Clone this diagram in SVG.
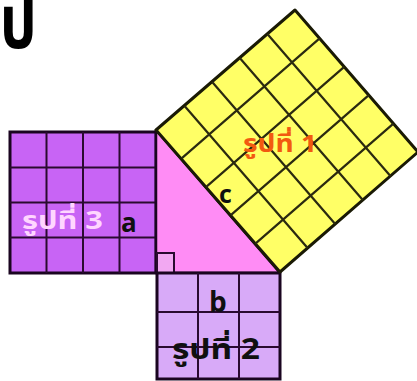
<svg xmlns="http://www.w3.org/2000/svg" width="417" height="381" viewBox="0 0 417 381">
<style>
.grid{stroke:#2a0a30;stroke-width:2;fill:none}
.ygrid{stroke:#2b2a10;stroke-width:2.2;fill:none}
.lbl{font-family:"Noto Sans Thai","Liberation Sans","Noto Sans",sans-serif;font-weight:bold}
</style>
<rect width="417" height="381" fill="#ffffff"/>
<text class="lbl" transform="translate(0,48) scale(0.78,1)" x="0" y="0" font-size="74" fill="#000" font-family="'Noto Serif Thai','Noto Sans Thai',serif">ป</text>
<g id="square3">
<rect x="10" y="132" width="146" height="141" fill="#c864f5" stroke="#1a0520" stroke-width="3"/>
<path class="grid" d="M46.5 132V273M83 132V273M119.5 132V273M10 167.5H156M10 202.5H156M10 237.5H156"/>
<text class="lbl" x="22" y="229" font-size="25" fill="#ffd6ff" textLength="81" lengthAdjust="spacingAndGlyphs">รูปที่ 3</text>
<text class="lbl" x="121" y="232" font-size="26" fill="#101010">a</text>
</g>
<g id="triangle">
<path d="M156 130L156 273L280 273Z" fill="#ff8cf5" stroke="#1a0520" stroke-width="2.5" stroke-linejoin="round"/>
<rect x="157" y="253" width="17" height="20" fill="#f2a8f2" stroke="#2a0a30" stroke-width="2"/>
</g>
<g id="square2">
<rect x="157" y="273" width="123" height="106" fill="#d8aaf8" stroke="#1a0520" stroke-width="3"/>
<path class="grid" d="M198 273V379M239 273V379M157 312H280M157 347H280"/>
<text class="lbl" x="209" y="312" font-size="28" fill="#101010">b</text>
<text class="lbl" x="172" y="359" font-size="28" fill="#101010" textLength="88" lengthAdjust="spacingAndGlyphs">รูปที่ 2</text>
</g>
<g id="square1">
<path d="M156 130L295 10L418 152L280 272Z" fill="#ffff66" stroke="#1a1a05" stroke-width="3" stroke-linejoin="round"/>
<path class="ygrid" d="M184.6 106L307.6 248M212.2 82L335.2 224M239.8 58L362.8 200M267.4 34L390.4 176M181.6 158.4L319.6 38.4M206.2 186.8L344.2 66.8M230.8 215.2L368.8 95.2M255.4 243.6L393.4 123.6"/>
<text class="lbl" x="243" y="152" font-size="24" fill="#f25a10" textLength="74" lengthAdjust="spacingAndGlyphs">รูปที่ 1</text>
<text class="lbl" x="219" y="203" font-size="25" fill="#101010">c</text>
</g>
</svg>
